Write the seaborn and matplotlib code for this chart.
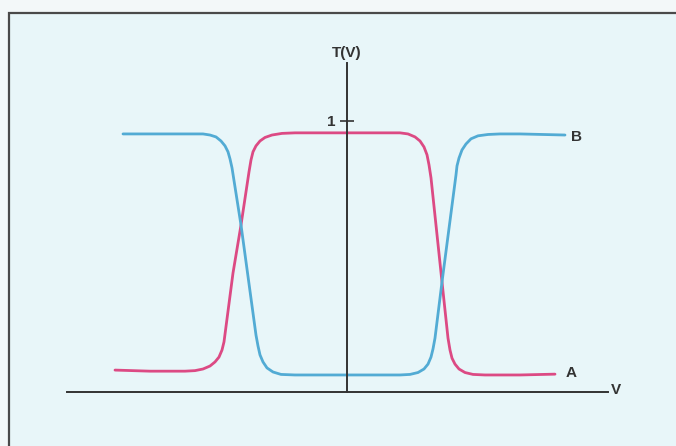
import numpy as np
import pandas as pd
import matplotlib
matplotlib.use("Agg")
import matplotlib.pyplot as plt
import seaborn as sns
from matplotlib.patches import Rectangle

# curve A (pink): V, T(V)
a_v = [-2.32, -1.97, -1.62, -1.52, -1.44, -1.37, -1.32, -1.28, -1.25, -1.23, -1.14, -1.06, -0.98,
       -0.96, -0.94, -0.91, -0.87, -0.82, -0.75, -0.65, -0.52, -0.02, 0.53, 0.61, 0.68, 0.73, 0.77,
       0.80, 0.82, 0.84, 0.95, 1.01, 1.03, 1.05, 1.08, 1.12, 1.18, 1.26, 1.38, 1.73, 2.08]
a_t = [0.081, 0.077, 0.077, 0.079, 0.085, 0.096, 0.111, 0.129, 0.155, 0.185, 0.439, 0.616, 0.812,
       0.856, 0.886, 0.908, 0.926, 0.939, 0.948, 0.954, 0.956, 0.956, 0.956, 0.952, 0.941, 0.926, 0.904,
       0.875, 0.838, 0.790, 0.406, 0.199, 0.155, 0.125, 0.103, 0.085, 0.072, 0.065, 0.063, 0.063, 0.066]

# curve B (blue)
b_v = [-2.24, -1.87, -1.44, -1.37, -1.31, -1.26, -1.22, -1.19, -1.17, -1.15, -1.06, -0.91, -0.89,
       -0.87, -0.84, -0.80, -0.74, -0.66, -0.52, -0.02, 0.53, 0.63, 0.71, 0.77, 0.81, 0.84, 0.86,
       0.88, 0.95, 1.09, 1.10, 1.12, 1.15, 1.19, 1.24, 1.31, 1.41, 1.53, 1.73, 2.18]
b_t = [0.952, 0.952, 0.952, 0.948, 0.941, 0.926, 0.908, 0.886, 0.860, 0.827, 0.616, 0.210, 0.170,
       0.137, 0.111, 0.089, 0.074, 0.065, 0.063, 0.063, 0.063, 0.065, 0.072, 0.085, 0.103, 0.129, 0.159,
       0.199, 0.406, 0.801, 0.834, 0.863, 0.893, 0.915, 0.934, 0.945, 0.950, 0.952, 0.952, 0.948]

y_ticks = [1]
y_tick_labels = ["1"]

df_a = pd.DataFrame({"V": a_v, "T": a_t})
df_b = pd.DataFrame({"V": b_v, "T": b_t})

sns.set_style("white")
plt.rcParams['font.family'] = ['Liberation Sans', 'DejaVu Sans']

fig = plt.figure(figsize=(6.76, 4.46), dpi=100, facecolor="#f3f8f9")
# panel frame (runs off the right and bottom edges)
fig.patches.append(Rectangle((9 / 676, -0.1), 1.2, 1 - 13 / 446 + 0.1, transform=fig.transFigure,
                             facecolor="#e8f6f9", edgecolor="#4a4a4a", linewidth=1.6, zorder=-5))

ax = fig.add_axes([0, 0, 1, 1])
ax.set_facecolor("none")
ax.patch.set_alpha(0)
ax.set_xlim(-3.47, 3.29)
ax.set_ylim(-0.199, 1.446)

sns.lineplot(data=df_a, x="V", y="T", sort=False, color="#dc4a84", linewidth=2, ax=ax)
sns.lineplot(data=df_b, x="V", y="T", sort=False, color="#52abd4", linewidth=2, ax=ax)

# axes crossing at origin
for s in ["top", "right"]:
    ax.spines[s].set_visible(False)
ax.spines["left"].set_position(("data", 0))
ax.spines["bottom"].set_position(("data", 0))
ax.spines["left"].set_bounds(0, 1.214)
ax.spines["bottom"].set_bounds(-2.80, 2.61)
for s in ["left", "bottom"]:
    ax.spines[s].set_color("#333333")
    ax.spines[s].set_linewidth(1.4)

ax.set_xticks([])
ax.set_yticks(y_ticks)
ax.set_yticklabels(y_tick_labels)
ax.tick_params(axis="y", left=True, direction="inout", length=10.5, width=1.2, color="#333333",
               labelsize=11, labelcolor="#333333", pad=3)
for lab in ax.get_yticklabels():
    lab.set_fontweight("bold")
ax.set_xlabel("")
ax.set_ylabel("")

txt = dict(color="#333333", fontsize=11, fontweight="bold", ha="center", va="center")
ax.text(0.0, 1.251, "T(V)", **txt)
ax.text(2.30, 0.941, "B", **txt)
ax.text(2.24, 0.070, "A", **txt)
ax.text(2.69, 0.007, "V", **txt)

fig.savefig("out.png", dpi=100, facecolor=fig.get_facecolor())
